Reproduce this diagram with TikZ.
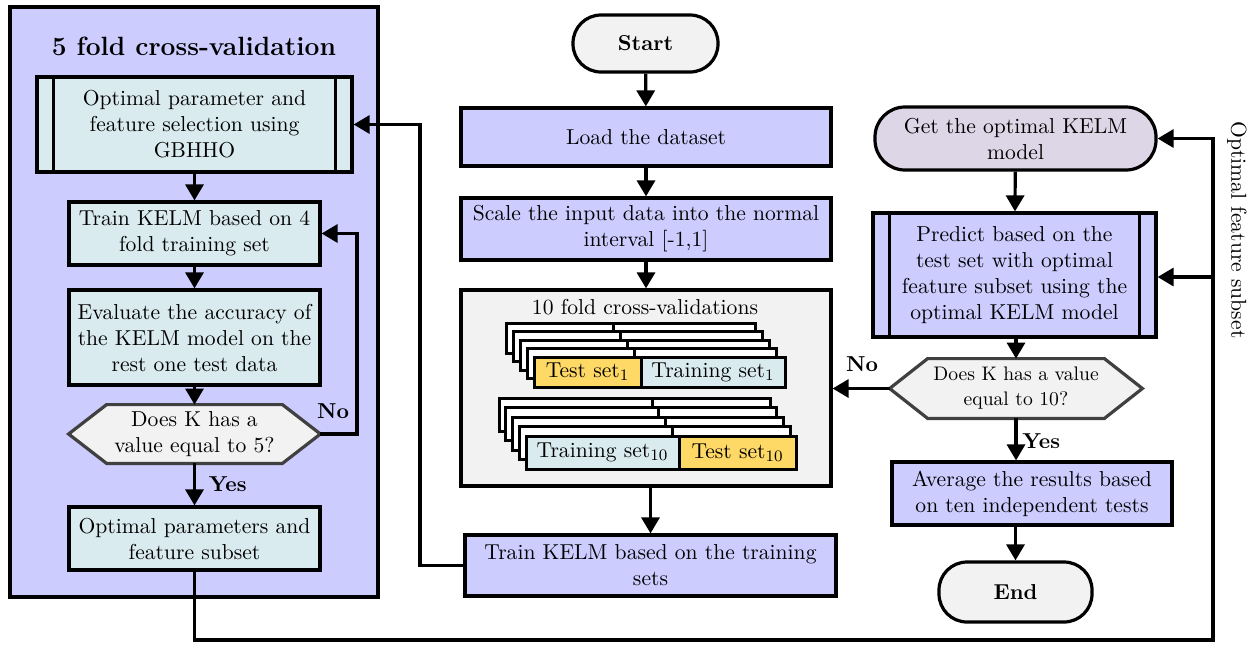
\documentclass[tikz,border=0pt]{standalone}
\usetikzlibrary{arrows.meta}
\pgfdeclarelayer{bg}
\pgfsetlayers{bg,main}
\definecolor{lav}{HTML}{CCCCFF}
\definecolor{lblue}{HTML}{DAEBF0}
\definecolor{lgray}{HTML}{F2F2F2}
\definecolor{ylw}{HTML}{FFD966}
\definecolor{lpur}{HTML}{DCD6E6}
\definecolor{dgray}{HTML}{404040}
\begin{document}
\begin{tikzpicture}[x=0.5pt,y=-0.5pt,
  every node/.style={font=\fontsize{10.8}{13}\selectfont},
  box/.style={draw, line width=1.6pt, align=center, inner sep=1pt},
  term/.style={box, rounded corners=14pt},
  dec/.style={align=center, inner sep=0pt},
  hexs/.style={draw=dgray, fill=lgray, line width=1.6pt},
  arr/.style={line width=1.6pt, -{Triangle[width=9pt,length=8pt]}},
  ln/.style={line width=1.6pt},
  lay/.style={draw, fill=white, line width=1.5pt},
  bfl/.style={font=\fontsize{10.8}{13}\selectfont\bfseries}]
\useasboundingbox (0,0) rectangle (1253,644);
% left frame
\begin{pgfonlayer}{bg}
\node[draw, line width=1.6pt, fill=lav, minimum width=184pt, minimum height=295pt] (cv5) at (194,302) {};
\end{pgfonlayer}
\node[font=\fontsize{13.2}{15}\selectfont\bfseries] (cv5t) at (194,46) {5 fold cross-validation};
\node[box, fill=lblue, minimum width=157.5pt, minimum height=47.5pt] (opt) at (194.5,124.5) {Optimal parameter and\\feature selection using\\GBHHO};
\draw[ln] ([xshift=9pt]opt.north west) -- ([xshift=9pt]opt.south west);
\draw[ln] ([xshift=-9pt]opt.north east) -- ([xshift=-9pt]opt.south east);
\node[box, fill=lblue, minimum width=125.5pt, minimum height=31.5pt] (train4) at (194.5,233.5) {Train KELM based on 4\\fold training set};
\node[box, fill=lblue, minimum width=125.5pt, minimum height=47.5pt] (eval) at (194.5,337.5) {Evaluate the accuracy of\\the KELM model on the\\rest one test data};
\node[dec, minimum width=125.5pt, minimum height=29pt] (dec5) at (194.5,434) {Does K has a\\value equal to 5?};
\node[box, fill=lblue, minimum width=125.5pt, minimum height=31.5pt] (optp) at (194.5,538.5) {Optimal parameters and\\feature subset};
% middle
\node[term, fill=lgray, minimum width=72.5pt, minimum height=28.5pt, font=\fontsize{10.8}{13}\selectfont\bfseries] (start) at (645.5,43.5) {Start};
\node[box, fill=lav, minimum width=185pt, minimum height=29pt] (load) at (646,137) {Load the dataset};
\node[box, fill=lav, minimum width=185pt, minimum height=31pt] (scale) at (646,229) {Scale the input data into the normal\\interval [-1,1]};
\node[box, fill=lgray, minimum width=185pt, minimum height=98pt] (tenf) at (646,388) {};
\node (tenft) at (645,307) {10 fold cross-validations};
\foreach \i in {0,1,2,3}{
  \draw[lay] (506+7*\i,323+8.5*\i) rectangle (613+7*\i,353+8.5*\i);
  \draw[lay] (613+7*\i,323+8.5*\i) rectangle (755+7*\i,353+8.5*\i);
}
\node[draw, line width=1.5pt, fill=ylw, minimum width=53.5pt, minimum height=15pt, inner sep=0pt] (test1) at (587.5,372) {Test set$_1$};
\node[draw, line width=1.5pt, fill=lblue, minimum width=72pt, minimum height=15pt, inner sep=0pt] (tr1) at (713,372) {Training set$_1$};
\foreach \i in {0,1,2,3}{
  \draw[lay] (499+6.75*\i,398+9.5*\i) rectangle (652+6.75*\i,431+9.5*\i);
  \draw[lay] (652+6.75*\i,398+9.5*\i) rectangle (770+6.75*\i,431+9.5*\i);
}
\node[draw, line width=1.5pt, fill=lblue, minimum width=76.5pt, minimum height=16.5pt, inner sep=0pt] (tr10) at (602.5,452.5) {Training set$_{10}$};
\node[draw, line width=1.5pt, fill=ylw, minimum width=58.5pt, minimum height=16.5pt, inner sep=0pt] (test10) at (737.5,452.5) {Test set$_{10}$};
\node[box, fill=lav, minimum width=185.5pt, minimum height=30.5pt] (trainall) at (650.5,565.5) {Train KELM based on the training\\sets};
% right
\node[term, rounded corners=15pt, fill=lpur, minimum width=140.5pt, minimum height=31.5pt] (getopt) at (1015.5,138.5) {Get the optimal KELM\\model};
\node[box, fill=lav, minimum width=141.5pt, minimum height=62pt] (pred) at (1014.5,275) {Predict based on the\\test set with optimal\\feature subset using the\\optimal KELM model};
\draw[ln] ([xshift=9pt]pred.north west) -- ([xshift=9pt]pred.south west);
\draw[ln] ([xshift=-9pt]pred.north east) -- ([xshift=-9pt]pred.south east);
\node[dec, minimum width=126pt, minimum height=29.5pt, font=\fontsize{9.8}{12.5}\selectfont] (dec10) at (1016,388.5) {Does K has a value\\equal to 10?};
\node[box, fill=lav, minimum width=140pt, minimum height=31.5pt] (avg) at (1032,493.5) {Average the results based\\on ten independent tests};
\node[term, fill=lgray, minimum width=76.5pt, minimum height=30pt, font=\fontsize{10.8}{13}\selectfont\bfseries] (endn) at (1015.5,592) {End};
\node[rotate=-90] (lab) at (1237,230) {Optimal feature subset};
% hexagons
\begin{pgfonlayer}{bg}
\draw[hexs] ([xshift=19pt]dec5.north west) -- ([xshift=-19pt]dec5.north east) -- (dec5.east) -- ([xshift=-19pt]dec5.south east) -- ([xshift=19pt]dec5.south west) -- (dec5.west) -- cycle;
\draw[hexs] ([xshift=19pt]dec10.north west) -- ([xshift=-19pt]dec10.north east) -- (dec10.east) -- ([xshift=-19pt]dec10.south east) -- ([xshift=19pt]dec10.south west) -- (dec10.west) -- cycle;
\end{pgfonlayer}
% connectors left
\draw[arr] (opt) -- (train4);
\draw[arr] (train4) -- (eval);
\draw[arr] (eval) -- (dec5);
\draw[arr] (dec5) -- node[right, bfl, pos=0.5, xshift=3pt] {Yes} (optp);
\draw[arr] (dec5.east) -- (357,434) -- (357,233.5) -- (train4.east);
\node[bfl] (no5) at (333,411) {No};
% middle
\draw[arr] (start) -- (load);
\draw[arr] (load) -- (scale);
\draw[arr] (scale) -- (tenf);
\draw[arr] (tenf.south -| trainall.north) -- (trainall.north);
\draw[arr] (trainall.west) -- (420,565.5) -- (420,124.5) -- (opt.east);
% right
\draw[arr] (getopt) -- (pred);
\draw[arr] (pred.south -| dec10.north) -- (dec10.north);
\draw[arr] (dec10.south) -- node[right, bfl, pos=0.55, xshift=-1pt] {Yes} (dec10.south |- avg.north);
\draw[arr] (endn.north |- avg.south) -- (endn.north);
\draw[arr] (dec10.west) -- (dec10.west -| tenf.east);
\node[bfl] (no10) at (862,364) {No};
% feedback
\coordinate (fb) at (1213,277);
\draw[arr] (optp.south) -- (194.5,640) -- (1213,640) -- (1213,138.5) -- (getopt.east);
\draw[arr] (fb) -- (fb -| pred.east);
\end{tikzpicture}
\end{document}
